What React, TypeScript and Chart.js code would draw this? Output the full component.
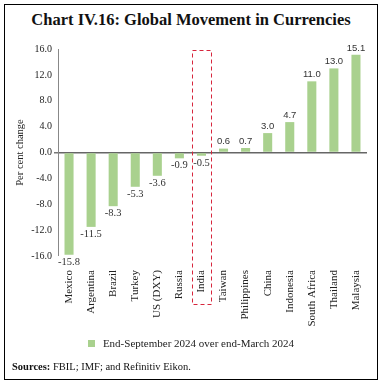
import React, { useEffect, useRef } from "react";
import { Chart, registerables } from "chart.js";

Chart.register(...registerables);

const categories = ["Mexico", "Argentina", "Brazil", "Turkey", "US (DXY)", "Russia", "India", "Taiwan", "Philippines", "China", "Indonesia", "South Africa", "Thailand", "Malaysia"];
const values = [-15.8, -11.5, -8.3, -5.3, -3.6, -0.9, -0.5, 0.6, 0.7, 3.0, 4.7, 11.0, 13.0, 15.1];
const yTicks = [16, 12, 8, 4, 0, -4, -8, -12, -16];
const highlighted = "India";
const seriesLabel = "End-September 2024 over end-March 2024";
const titleText = "Chart IV.16: Global Movement in Currencies";
const yTitle = "Per cent change";

const GREEN = "#a9d18e";
const SERIF = "'Liberation Serif', 'DejaVu Serif', serif";
const SANS = "'Liberation Sans', 'DejaVu Sans', sans-serif";

const extrasPlugin = {
  id: "extras",
  afterDatasetsDraw(chart: any) {
    const { ctx, chartArea } = chart;
    const xs = chart.scales.x;
    const ys = chart.scales.y;
    const meta = chart.getDatasetMeta(0);
    ctx.save();
    meta.data.forEach((bar: any, i: number) => {
      const v = values[i];
      ctx.fillStyle = "#333";
      ctx.textAlign = "center";
      if (v >= 0) {
        ctx.font = `9.5px ${SANS}`;
        ctx.textBaseline = "bottom";
        ctx.fillText(v.toFixed(1), bar.x, bar.y - 2);
      } else {
        ctx.font = `10.5px ${SERIF}`;
        ctx.textBaseline = "top";
        ctx.fillText(v.toFixed(1), bar.x, bar.y + 2);
      }
    });
    const idx = categories.indexOf(highlighted);
    if (idx >= 0) {
      const cx = xs.getPixelForValue(idx);
      const top = ys.getPixelForValue(yTicks[0]) + 1;
      const bottom = chartArea.bottom + 48;
      ctx.strokeStyle = "#d7263d";
      ctx.lineWidth = 1;
      ctx.setLineDash([4, 3]);
      ctx.strokeRect(Math.round(cx - 9.5) + 0.5, Math.round(top) + 0.5, 19, Math.round(bottom - top));
    }
    ctx.restore();
  },
};

function ChartCanvas() {
  const ref = useRef<HTMLCanvasElement>(null);
  useEffect(() => {
    if (!ref.current) return;
    const chart = new Chart(ref.current, {
      type: "bar",
      data: {
        labels: categories,
        datasets: [
          {
            label: seriesLabel,
            data: values,
            backgroundColor: GREEN,
            barPercentage: 0.41,
            categoryPercentage: 1,
          },
        ],
      },
      options: {
        responsive: false,
        animation: false,
        layout: { padding: { top: 19, right: 10, bottom: 0, left: 0 } },
        plugins: {
          legend: { display: false },
          tooltip: { enabled: false },
          title: { display: false },
        },
        scales: {
          x: {
            grid: {
              display: true,
              drawOnChartArea: false,
              drawTicks: true,
              tickLength: 12,
              tickColor: "rgba(0,0,0,0)",
              color: "rgba(0,0,0,0)",
            },
            border: { display: false },
            ticks: {
              maxRotation: 90,
              minRotation: 90,
              padding: 2,
              color: "#222",
              font: { family: SERIF, size: 11 },
              autoSkip: false,
            },
            afterFit: (s: any) => {
              s.height = 84;
            },
          },
          y: {
            min: -16,
            max: 16,
            afterBuildTicks: (s: any) => {
              s.ticks = yTicks.map((v) => ({ value: v }));
            },
            afterFit: (s: any) => {
              s.width = 53;
            },
            grid: {
              drawTicks: true,
              tickLength: 4,
              tickColor: "#777",
              color: (c: any) => (c.tick && c.tick.value === 0 ? "#666" : "rgba(0,0,0,0)"),
              lineWidth: (c: any) => (c.tick && c.tick.value === 0 ? 1.5 : 0),
            },
            border: { display: true, color: "#888", width: 1 },
            ticks: {
              padding: 2,
              color: "#222",
              font: { family: SERIF, size: 10 },
              callback: (v: any) => Number(v).toFixed(1),
            },
            title: {
              display: true,
              text: yTitle,
              color: "#222",
              font: { family: SERIF, size: 10.5 },
              padding: { top: 9, bottom: 0 },
            },
          },
        },
      },
      plugins: [extrasPlugin],
    });
    return () => chart.destroy();
  }, []);
  return <canvas ref={ref} width={372} height={310} style={{ position: "absolute", left: 0, top: 25, width: 372, height: 310 }} />;
}

export default function App() {
  return (
    <div
      style={{
        position: "absolute",
        left: 4,
        top: 4,
        width: 374,
        height: 376,
        border: "1px solid #000",
        boxSizing: "border-box",
        background: "#fff",
        fontFamily: SERIF,
        color: "#111",
      }}
    >
      <div
        style={{
          position: "absolute",
          left: 0,
          right: 0,
          top: 5,
          textAlign: "center",
          fontSize: 16.5,
          fontWeight: "bold",
          lineHeight: "20px",
          color: "#111",
        }}
      >
        {titleText}
      </div>
      <ChartCanvas />
      <div
        style={{
          position: "absolute",
          left: 0,
          right: 0,
          top: 331,
          textAlign: "center",
          fontSize: 11,
          lineHeight: "14px",
          color: "#222",
        }}
      >
        <span style={{ display: "inline-block", width: 7, height: 7, background: GREEN, marginRight: 8, verticalAlign: "0px" }} />
        {seriesLabel}
      </div>
      <div style={{ position: "absolute", left: 7, top: 355, fontSize: 10.5, lineHeight: "13px", color: "#111" }}>
        <b>Sources:</b> FBIL; IMF; and Refinitiv Eikon.
      </div>
    </div>
  );
}
